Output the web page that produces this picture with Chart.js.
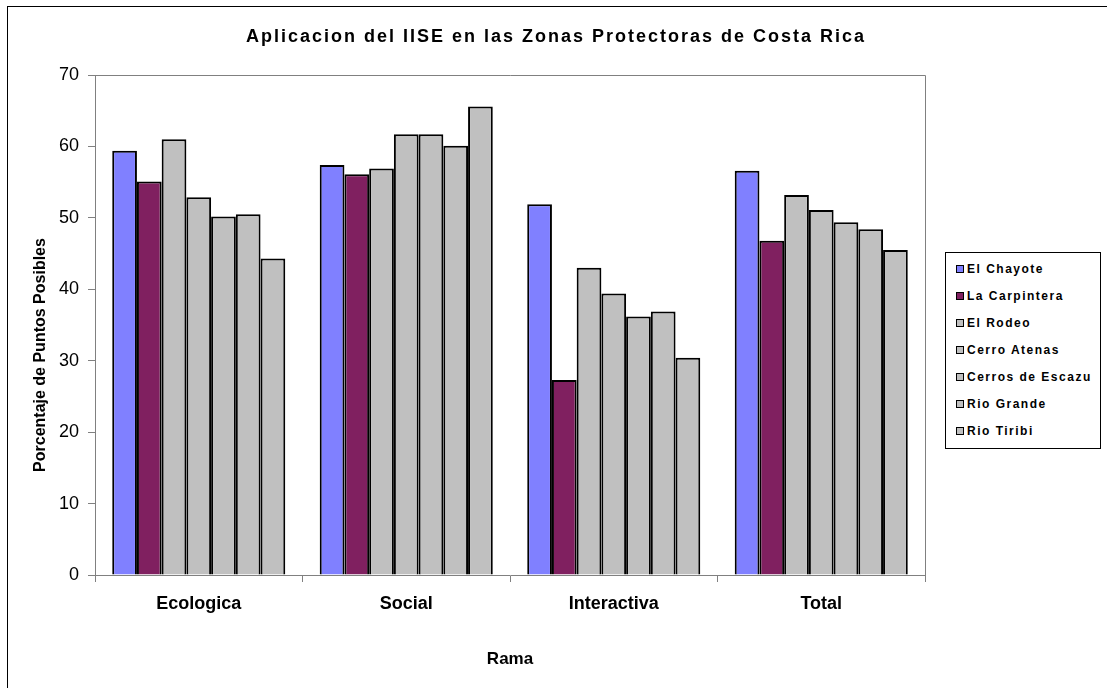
<!DOCTYPE html>
<html>
<head>
<meta charset="utf-8">
<script src="https://cdn.jsdelivr.net/npm/chart.js@4"></script>
<style>
  html, body { margin: 0; padding: 0; background: #fff; overflow: hidden; }
  #wrap { position: relative; width: 1107px; height: 688px; }
  #frame { position: absolute; left: 7px; top: 6px; width: 1200px; height: 800px; border: 1px solid #000; }
  #chart { position: absolute; left: 0; top: 0; }
  #legend {
    position: absolute; left: 945px; top: 252px; width: 156px; height: 197px;
    border: 1px solid #000; background: #fff; box-sizing: border-box; padding-top: 2px;
    font: bold 12px "Liberation Sans", Arial, sans-serif; letter-spacing: 1.5px; color: #000;
  }
  .item { height: 27px; display: flex; align-items: center; padding-left: 10px; white-space: nowrap; }
  .sw { width: 6px; height: 6px; border: 1px solid #000; margin-right: 3px; flex: none; }
</style>
</head>
<body>
<div id="wrap">
  <div id="frame"></div>
  <canvas id="chart" width="1107" height="688"></canvas>
  <div id="legend"></div>
</div>
<script>
const categories = ['Ecologica', 'Social', 'Interactiva', 'Total'];
const seriesNames = ['El Chayote', 'La Carpintera', 'El Rodeo', 'Cerro Atenas', 'Cerros de Escazu', 'Rio Grande', 'Rio Tiribi'];
const elChayote = [59.4, 57.4, 51.9, 56.6];
const laCarpintera = [55.1, 56.1, 27.3, 46.8];
const elRodeo = [61.0, 56.9, 43.0, 53.2];
const cerroAtenas = [52.9, 61.7, 39.4, 51.1];
const cerrosEscazu = [50.2, 61.7, 36.2, 49.4];
const rioGrande = [50.5, 60.1, 36.9, 48.4];
const rioTiribi = [44.3, 65.6, 30.4, 45.5];
const seriesValues = [elChayote, laCarpintera, elRodeo, cerroAtenas, cerrosEscazu, rioGrande, rioTiribi];
const seriesColors = ['#8080ff', '#802060', '#c0c0c0', '#c0c0c0', '#c0c0c0', '#c0c0c0', '#c0c0c0'];

const FONT = '"Liberation Sans", Arial, sans-serif';

// plot frame, title and y-axis label drawn by hand
const extras = {
  id: 'extras',
  afterDraw(chart) {
    const { ctx, chartArea: a } = chart;
    ctx.save();
    ctx.strokeStyle = '#808080';
    ctx.lineWidth = 1;
    ctx.beginPath();
    ctx.moveTo(a.left, a.top + 0.5);
    ctx.lineTo(a.right + 0.5, a.top + 0.5);
    ctx.lineTo(a.right + 0.5, a.bottom);
    ctx.stroke();

    ctx.fillStyle = '#000';
    ctx.textAlign = 'center';
    ctx.textBaseline = 'middle';
    ctx.font = 'bold 18px ' + FONT;
    ctx.letterSpacing = '2px';
    ctx.fillText('Aplicacion del IISE en las Zonas Protectoras de Costa Rica', 556, 37);

    ctx.letterSpacing = '0px';
    ctx.translate(41, 355);
    ctx.rotate(-Math.PI / 2);
    ctx.font = 'bold 16px ' + FONT;
    ctx.fillText('Porcentaje de Puntos Posibles', 0, 0);
    ctx.restore();
  }
};

new Chart(document.getElementById('chart'), {
  type: 'bar',
  data: {
    labels: categories,
    datasets: seriesNames.map((name, i) => ({
      label: name,
      data: seriesValues[i],
      backgroundColor: seriesColors[i],
      borderColor: '#000',
      borderWidth: 2,
      categoryPercentage: 0.834,
      barPercentage: 1
    }))
  },
  options: {
    responsive: false,
    animation: false,
    layout: { padding: { top: 75, right: 182, left: 0, bottom: 0 } },
    plugins: {
      legend: { display: false },
      title: { display: false },
      tooltip: { enabled: false }
    },
    scales: {
      x: {
        grid: { drawOnChartArea: false, tickLength: 7, color: '#808080' },
        border: { color: '#808080' },
        ticks: { color: '#000', padding: 11, font: { family: FONT, size: 18, weight: 'bold' } },
        title: {
          display: true, text: 'Rama', color: '#000',
          font: { family: FONT, size: 17, weight: 'bold' },
          padding: { top: 0, bottom: 18 }
        },
        afterFit(s) { s.height = 113; }
      },
      y: {
        min: 0, max: 70,
        grid: { drawOnChartArea: false, tickLength: 7, color: '#808080' },
        border: { color: '#808080' },
        ticks: { stepSize: 10, color: '#000', padding: 9, font: { family: FONT, size: 18 } },
        afterFit(s) { s.width = 95; }
      }
    }
  },
  plugins: [extras]
});

const legend = document.getElementById('legend');
seriesNames.forEach((name, i) => {
  const row = document.createElement('div');
  row.className = 'item';
  const sw = document.createElement('span');
  sw.className = 'sw';
  sw.style.background = seriesColors[i];
  row.appendChild(sw);
  row.appendChild(document.createTextNode(name));
  legend.appendChild(row);
});
</script>
</body>
</html>
